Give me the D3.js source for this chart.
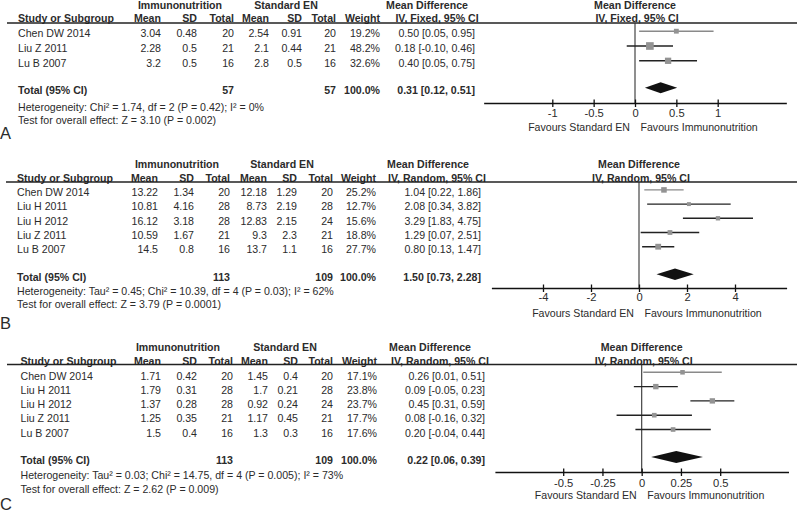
<!DOCTYPE html>
<html><head><meta charset="utf-8">
<script src="https://cdn.jsdelivr.net/npm/d3@7"></script>
<style>
body{margin:0;background:#fff}
svg{display:block}
text{font-family:"Liberation Sans",Arial,sans-serif;fill:#2b2b2b}
</style>
</head><body>
<svg id="c" width="800" height="514"></svg>
<script>
// ---------- Panel A data ----------
const studiesA = ["Chen DW 2014", "Liu Z 2011", "Lu B 2007"];
const immMeanA = [3.04, 2.28, 3.2];
const immSdA   = [0.48, 0.5, 0.5];
const immTotA  = [20, 21, 16];
const stdMeanA = [2.54, 2.1, 2.8];
const stdSdA   = [0.91, 0.44, 0.5];
const stdTotA  = [20, 21, 16];
const weightA  = [19.2, 48.2, 32.6];
const mdA      = [0.50, 0.18, 0.40];
const loA      = [0.05, -0.10, 0.05];
const hiA      = [0.95, 0.46, 0.75];
const totalA   = [57, 57, 0.31, 0.12, 0.51];
const ticksA   = [-1, -0.5, 0, 0.5, 1];
const hetA  = "Heterogeneity: Chi² = 1.74, df = 2 (P = 0.42); I² = 0%";
const testA = "Test for overall effect: Z = 3.10 (P = 0.002)";

// ---------- Panel B data ----------
const studiesB = ["Chen DW 2014", "Liu H 2011", "Liu H 2012", "Liu Z 2011", "Lu B 2007"];
const immMeanB = [13.22, 10.81, 16.12, 10.59, 14.5];
const immSdB   = [1.34, 4.16, 3.18, 1.67, 0.8];
const immTotB  = [20, 28, 28, 21, 16];
const stdMeanB = [12.18, 8.73, 12.83, 9.3, 13.7];
const stdSdB   = [1.29, 2.19, 2.15, 2.3, 1.1];
const stdTotB  = [20, 28, 24, 21, 16];
const weightB  = [25.2, 12.7, 15.6, 18.8, 27.7];
const mdB      = [1.04, 2.08, 3.29, 1.29, 0.80];
const loB      = [0.22, 0.34, 1.83, 0.07, 0.13];
const hiB      = [1.86, 3.82, 4.75, 2.51, 1.47];
const totalB   = [113, 109, 1.50, 0.73, 2.28];
const ticksB   = [-4, -2, 0, 2, 4];
const hetB  = "Heterogeneity: Tau² = 0.45; Chi² = 10.39, df = 4 (P = 0.03); I² = 62%";
const testB = "Test for overall effect: Z = 3.79 (P = 0.0001)";

// ---------- Panel C data ----------
const studiesC = ["Chen DW 2014", "Liu H 2011", "Liu H 2012", "Liu Z 2011", "Lu B 2007"];
const immMeanC = [1.71, 1.79, 1.37, 1.25, 1.5];
const immSdC   = [0.42, 0.31, 0.28, 0.35, 0.4];
const immTotC  = [20, 28, 28, 21, 16];
const stdMeanC = [1.45, 1.7, 0.92, 1.17, 1.3];
const stdSdC   = [0.4, 0.21, 0.24, 0.45, 0.3];
const stdTotC  = [20, 28, 24, 21, 16];
const weightC  = [17.1, 23.8, 23.7, 17.7, 17.6];
const mdC      = [0.26, 0.09, 0.45, 0.08, 0.20];
const loC      = [0.01, -0.05, 0.31, -0.16, -0.04];
const hiC      = [0.51, 0.23, 0.59, 0.32, 0.44];
const totalC   = [113, 109, 0.22, 0.06, 0.39];
const ticksC   = [-0.5, -0.25, 0, 0.25, 0.5];
const hetC  = "Heterogeneity: Tau² = 0.03; Chi² = 14.75, df = 4 (P = 0.005); I² = 73%";
const testC = "Test for overall effect: Z = 2.62 (P = 0.009)";

// ---------- layout ----------
const layoutA = {label:"A", labelY:133, hdr1:5, hdr2:18, sep:23, sepX0:7, row0:33.5, step:14.8,
  total:90, het:107.5, test:120, studyX:18, cols:[161,197,234,269,302,336,380], mdX:475,
  immC:180, stdC:286, mdH1:427, mdH2:437, zero:635, unit:82.7, ext:1.83, axisY:103,
  tickLab:113, fav:127, markOff:-2.3, dHalf:5.5};
const layoutB = {label:"B", labelY:323, hdr1:164, hdr2:178, sep:182, sepX0:6, row0:192.5, step:14.2,
  total:276.8, het:291, test:304, studyX:17, cols:[158,194,230,267,297,333,376], mdX:481,
  immC:177, stdC:282, mdH1:428, mdH2:437, zero:639, unit:24, ext:6.15, axisY:288,
  tickLab:297, fav:313, markOff:-2.6, dHalf:5.8};
const layoutC = {label:"C", labelY:504, hdr1:347, hdr2:361, sep:364.5, sepX0:7, row0:375.8, step:14.3,
  total:460.5, het:475, test:489, studyX:20.5, cols:[161,197,233,268,298,333,377], mdX:485,
  immC:178, stdC:285, mdH1:430, mdH2:440, zero:641.7, unit:157, ext:0.935, axisY:472,
  tickLab:483.5, fav:495, markOff:-3.5, dHalf:6};

const svg = d3.select("#c");
const sizeScale = d3.scaleSqrt().domain([0, 50]).range([0, 7.8]);
const FS = 10.6;

function txt(g, x, y, s, o = {}) {
  return g.append("text").attr("x", x).attr("y", y).attr("dy", "0.35em")
    .attr("text-anchor", o.anchor || "start")
    .attr("font-weight", o.bold ? "bold" : "normal")
    .attr("font-size", o.size || FS).text(s);
}
const f2 = d3.format(".2f");
const fmtCI = (m, l, h) => `${f2(m)} [${f2(l)}, ${f2(h)}]`.replace(/−/g, "-");

function drawPanel(L, D) {
  const g = svg.append("g");
  const y = d3.scaleLinear().domain([0, 1]).range([L.row0, L.row0 + L.step]);
  const x = d3.scaleLinear().domain([-L.ext, L.ext])
    .range([L.zero - L.ext * L.unit, L.zero + L.ext * L.unit]);

  // headers
  txt(g, L.immC, L.hdr1, "Immunonutrition", {anchor:"middle", bold:true});
  txt(g, L.stdC, L.hdr1, "Standard EN", {anchor:"middle", bold:true});
  txt(g, L.mdH1, L.hdr1, "Mean Difference", {anchor:"middle", bold:true});
  txt(g, L.zero, L.hdr1, "Mean Difference", {anchor:"middle", bold:true});
  txt(g, L.studyX, L.hdr2, "Study or Subgroup", {bold:true});
  ["Mean", "SD", "Total", "Mean", "SD", "Total", "Weight"]
    .forEach((h, i) => txt(g, L.cols[i], L.hdr2, h, {anchor:"end", bold:true}));
  const sub = "IV, " + D.method + ", 95% CI";
  txt(g, L.mdH2, L.hdr2, sub, {anchor:"middle", bold:true});
  txt(g, L.zero + 2, L.hdr2, sub, {anchor:"middle", bold:true});

  g.append("line").attr("x1", L.sepX0).attr("x2", 797).attr("y1", L.sep).attr("y2", L.sep)
    .attr("stroke", "#222").attr("stroke-width", 1.6);

  // study rows
  D.studies.forEach((s, i) => {
    const yy = y(i);
    txt(g, L.studyX, yy, s);
    const vals = [D.immMean[i], D.immSd[i], D.immTot[i], D.stdMean[i], D.stdSd[i], D.stdTot[i]].map(String);
    vals.push(D.weight[i].toFixed(1) + "%");
    vals.forEach((v, j) => txt(g, L.cols[j], yy, v, {anchor:"end"}));
    txt(g, L.mdX, yy, fmtCI(D.md[i], D.lo[i], D.hi[i]), {anchor:"end"});
  });

  // total rows
  const t = D.total;
  txt(g, L.studyX, L.total, "Total (95% CI)", {bold:true});
  txt(g, L.cols[2], L.total, String(t[0]), {anchor:"end", bold:true});
  txt(g, L.cols[5], L.total, String(t[1]), {anchor:"end", bold:true});
  txt(g, L.cols[6], L.total, "100.0%", {anchor:"end", bold:true});
  txt(g, L.mdX, L.total, fmtCI(t[2], t[3], t[4]), {anchor:"end", bold:true});
  txt(g, L.studyX, L.het, D.het);
  txt(g, L.studyX, L.test, D.test);
  txt(g, 0, L.labelY, L.label, {size:16.5});

  // zero line
  g.append("line").attr("x1", x(0)).attr("x2", x(0)).attr("y1", L.sep).attr("y2", L.axisY)
    .attr("stroke", "#333").attr("stroke-width", 1.1);

  // CIs and squares
  D.studies.forEach((s, i) => {
    const yy = y(i) + L.markOff;
    g.append("line").attr("x1", x(D.lo[i])).attr("x2", x(D.hi[i]))
      .attr("y1", yy).attr("y2", yy)
      .attr("stroke", i === 0 ? "#8a8a8a" : "#222").attr("stroke-width", 1.4);
    const sz = sizeScale(D.weight[i]);
    g.append("rect").attr("x", x(D.md[i]) - sz / 2).attr("y", yy - sz / 2)
      .attr("width", sz).attr("height", sz).attr("fill", "#939393");
  });

  // diamond
  const dy = L.total + L.markOff;
  g.append("path")
    .attr("d", `M${x(t[3])},${dy} L${x(t[2])},${dy - L.dHalf} L${x(t[4])},${dy} L${x(t[2])},${dy + L.dHalf} Z`)
    .attr("fill", "#111");

  // axis
  const ax = g.append("g").attr("transform", `translate(0,${L.axisY})`)
    .call(d3.axisBottom(x).tickValues(D.ticks).tickFormat(d => String(d))
      .tickSizeInner(4).tickSizeOuter(0).tickPadding(L.tickLab - L.axisY - 4 - 4));
  ax.select(".domain").attr("stroke", "#111").attr("stroke-width", 1.6);
  ax.selectAll(".tick line").attr("y1", -3.5).attr("stroke", "#111").attr("stroke-width", 1.3);
  ax.selectAll(".tick text").attr("font-size", 11.2)
    .attr("font-family", '"Liberation Sans",Arial,sans-serif').attr("fill", "#2b2b2b")
    .attr("dy", "0.71em");
  ax.attr("font-family", null).attr("font-size", null);

  txt(g, x(0) - 5, L.fav, "Favours Standard EN", {anchor:"end"});
  txt(g, x(0) + 5.5, L.fav, "Favours Immunonutrition");
}

drawPanel(layoutA, {studies:studiesA, immMean:immMeanA, immSd:immSdA, immTot:immTotA,
  stdMean:stdMeanA, stdSd:stdSdA, stdTot:stdTotA, weight:weightA, md:mdA, lo:loA, hi:hiA,
  total:totalA, ticks:ticksA, het:hetA, test:testA, method:"Fixed"});
drawPanel(layoutB, {studies:studiesB, immMean:immMeanB, immSd:immSdB, immTot:immTotB,
  stdMean:stdMeanB, stdSd:stdSdB, stdTot:stdTotB, weight:weightB, md:mdB, lo:loB, hi:hiB,
  total:totalB, ticks:ticksB, het:hetB, test:testB, method:"Random"});
drawPanel(layoutC, {studies:studiesC, immMean:immMeanC, immSd:immSdC, immTot:immTotC,
  stdMean:stdMeanC, stdSd:stdSdC, stdTot:stdTotC, weight:weightC, md:mdC, lo:loC, hi:hiC,
  total:totalC, ticks:ticksC, het:hetC, test:testC, method:"Random"});
</script>
</body></html>
